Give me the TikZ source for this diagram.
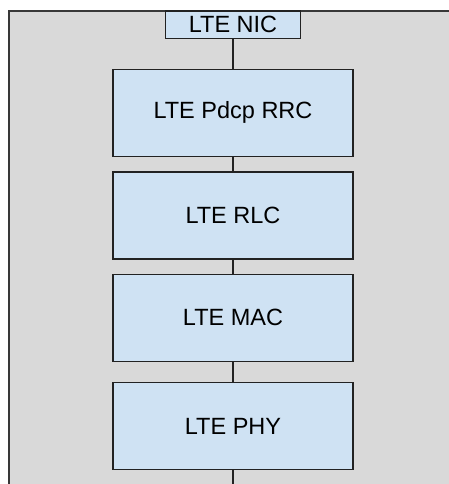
\documentclass[tikz,border=0pt]{standalone}
\usepackage{fontspec}
\setmainfont{Liberation Sans}
\definecolor{layerfill}{HTML}{CFE2F3}
\definecolor{framefill}{HTML}{D9D9D9}
\definecolor{edgecol}{HTML}{222222}
\begin{document}
\begin{tikzpicture}[x=1pt,y=-1pt,
  layer/.style={draw=edgecol, line width=1.3pt, fill=layerfill, minimum width=240pt, minimum height=87pt, inner sep=0pt, font=\fontsize{23.5}{28}\selectfont},
  link/.style={draw=edgecol, line width=1.3pt}]
  \useasboundingbox (0,0) rectangle (448,484);
  % enclosing frame, running off the right and bottom edges
  \draw[draw=edgecol!90, line width=2pt, fill=framefill] (8.5,11) rectangle (460,500);
  % protocol layers
  \node[layer] (pdcp) at (233,112.8) {LTE Pdcp RRC};
  \node[layer] (rlc)  at (233,215.5) {LTE RLC};
  \node[layer] (mac)  at (233,317.7) {LTE MAC};
  \node[layer] (phy)  at (233,426.3) {LTE PHY};
  \node[layer, minimum width=135pt, minimum height=27.5pt] (nic) at (233,24.9) {LTE NIC};
  \coordinate (bottom) at (233,486);
  % vertical connectors
  \draw[link] (nic.south) -- (pdcp.north);
  \draw[link] (pdcp.south) -- (rlc.north);
  \draw[link] (rlc.south) -- (mac.north);
  \draw[link] (mac.south) -- (phy.north);
  \draw[link] (phy.south) -- (bottom);
\end{tikzpicture}
\end{document}
